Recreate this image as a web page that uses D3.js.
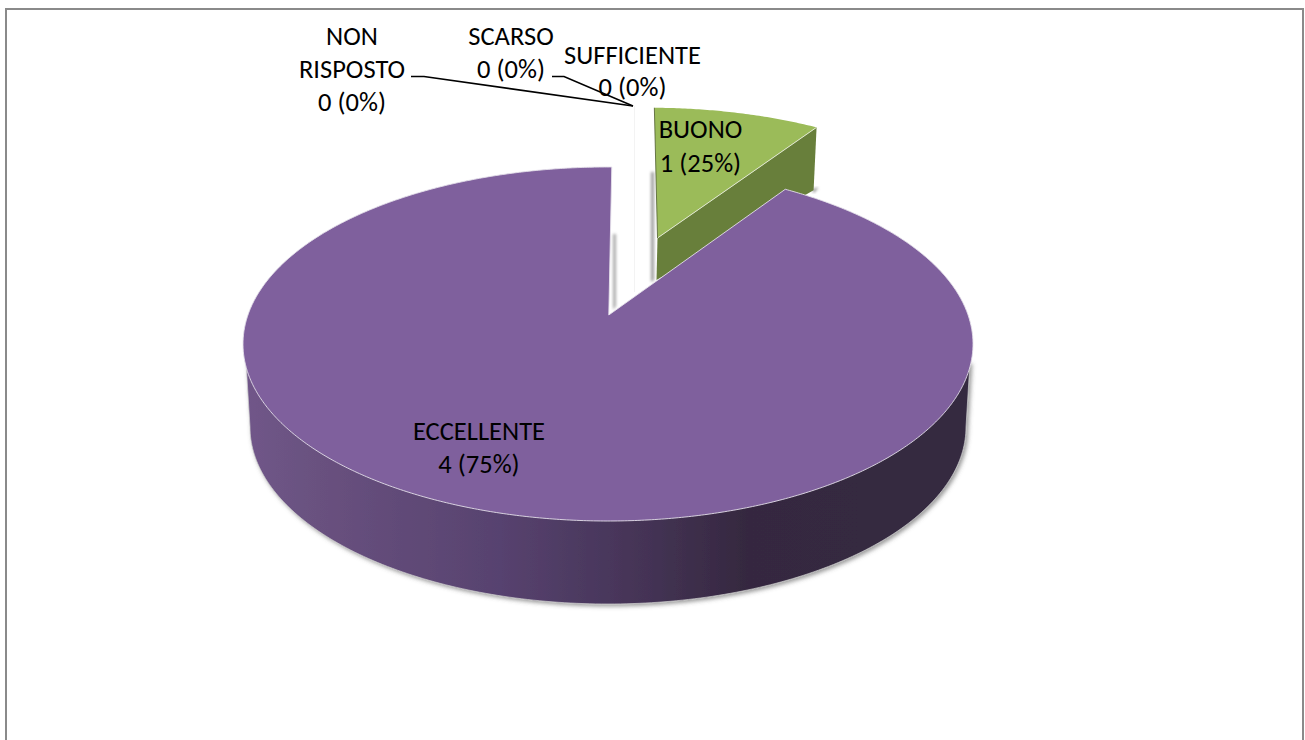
<!DOCTYPE html>
<html><head><meta charset="utf-8">
<script src="https://cdn.jsdelivr.net/npm/d3@7"></script>
<style>html,body{margin:0;padding:0;background:#fff;overflow:hidden}svg{display:block}text{font-family:Carlito,Lato,"Open Sans",sans-serif;fill:#000}</style>
</head><body><svg id="c" width="1305" height="740"></svg>
<script>
// Data: slice names, the printed labels, and the angular share actually drawn in the picture
const categories = ["BUONO","ECCELLENTE","NON RISPOSTO","SCARSO","SUFFICIENTE"];
const counts     = [1,4,0,0,0];
const percents   = [25,75,0,0,0];
const drawnShare = [9.25,90.75,0,0,0];

const svg = d3.select("#c");
const cx=608, cy=344, rx=365, ry=177, apexY=315, depth=83, rxLow=358;
const k=(cy-apexY)/ry, A=rx*Math.sqrt(1-k*k);
// perspective projection of the unit disc onto the top ellipse
const proj=t=>{const u=Math.sin(t),v=Math.cos(t),w=1+k*v;return [cx+A*u/w, cy+(-ry*v-ry*k)/w];};
const apex=[cx+0.8,apexY];
const pieGen=d3.pie().sort(null).value(d=>d).startAngle(0.7*Math.PI/180).endAngle((360.7)*Math.PI/180);
const arcs=pieGen(drawnShare);
const line=d3.line();
const sample=(a,b,n=240)=>d3.range(n+1).map(i=>proj(a+(b-a)*i/n));

const defs=svg.append("defs");
const g=defs.append("linearGradient").attr("id","side").attr("gradientUnits","userSpaceOnUse").attr("x1",245).attr("x2",975).attr("y1",0).attr("y2",0);
[[0,"#705689"],[0.1,"#69517f"],[0.35,"#57426f"],[0.55,"#443355"],[0.69,"#35283f"],[1,"#342a41"]].forEach(s=>g.append("stop").attr("offset",s[0]).attr("stop-color",s[1]));
const f=defs.append("filter").attr("id","sh").attr("x","-5%").attr("y","-5%").attr("width","110%").attr("height","115%");
f.append("feDropShadow").attr("dx",2).attr("dy",2).attr("stdDeviation",2).attr("flood-color","#555").attr("flood-opacity",.6);
const b=defs.append("filter").attr("id","blur").attr("x","-200%").attr("width","500%"); b.append("feGaussianBlur").attr("stdDeviation",1.8);

// frame
svg.append("rect").attr("x",6).attr("y",9).attr("width",1297).attr("height",800).attr("fill","#fff").attr("stroke","#8a8a8a").attr("stroke-width",2);

// green exploded slice
const gr=arcs[0], G=[657.5,238], sx=.93, sy=.88, shear=.04;
const toG=p=>{const dx=p[0]-apex[0],dy=p[1]-apex[1];return [G[0]+sx*dx+shear*dy,G[1]+sy*dy];};
const gTop=sample(gr.startAngle,gr.endAngle,60).map(toG);
const gEnd=gTop[gTop.length-1];
// shadows seen in the white gap
svg.append("path").attr("d",line([[651,172],[654,172],[654,280],[651,282]])).attr("fill","#999").attr("filter","url(#blur)");
svg.append("path").attr("d",line([[613,234],[616,234],[616,306],[613,310]])).attr("fill","#aaa").attr("filter","url(#blur)");
svg.append("path").attr("d",line([[gEnd[0]-4,gEnd[1]+62],[gEnd[0]+2,gEnd[1]+60],[gEnd[0]-3,gEnd[1]+66]])).attr("fill","#888").attr("filter","url(#blur)");
// green side
svg.append("path").attr("d",line([G,gEnd,[gEnd[0]-3,gEnd[1]+63],[G[0]-1,G[1]+42]])+"Z").attr("fill","#687f3b");
// green top
svg.append("path").attr("d",line([G,...gTop])+"Z").attr("fill","#9bbb59");
svg.append("path").attr("d",line([G,gEnd])).attr("fill","none").attr("stroke","#dfe6cf").attr("stroke-width",1);
svg.append("path").attr("d",line([G,gTop[0]])).attr("fill","none").attr("stroke","#4d5c2c").attr("stroke-width",.8);

// faint edge of the zero-value slices
svg.append("path").attr("d",line([[634.5,106],[634.5,292]])).attr("stroke","#f3f3f3").attr("stroke-width",1).attr("fill","none");

// purple side
const lowY=cy+depth;
const lower=d3.range(0,181).map(i=>{const a=Math.PI*i/180;return [cx-rxLow*Math.cos(a),lowY+ry*Math.sin(a)];});
svg.append("path").attr("d",line([[246,362],...lower,[970,362]])+"Z").attr("fill","url(#side)").attr("filter","url(#sh)").attr("stroke","#cfcfcf").attr("stroke-width",.7);
// purple top
const pu=arcs[1];
svg.append("path").attr("d",line([apex,...sample(pu.startAngle,pu.endAngle,720)])+"Z").attr("fill","#7f609d").attr("stroke","#e4e0ea").attr("stroke-width",.9);

// leaders
[[[411,76.5],[424,76.5],[633,106]],[[552,76.5],[564,76.5],[633,106]]].forEach(p=>svg.append("path").attr("d",line(p)).attr("fill","none").attr("stroke","#000").attr("stroke-width",1.6));

// labels
const lab=i=>`${counts[i]} (${percents[i]}%)`;
const labels=[
 {x:352,ys:[45,78,111],t:["NON","RISPOSTO",lab(2)]},
 {x:511,ys:[45,78],t:[categories[3],lab(3)]},
 {x:632.5,ys:[64,96],t:[categories[4],lab(4)]},
 {x:700.5,ys:[138,172],t:[categories[0],lab(0)]},
 {x:479,ys:[440,473],t:[categories[1],lab(1)]}
];
labels.forEach(l=>l.t.forEach((s,i)=>svg.append("text").attr("x",l.x).attr("y",l.ys[i]).attr("text-anchor","middle").attr("font-size",26.5).text(s)));
</script></body></html>
